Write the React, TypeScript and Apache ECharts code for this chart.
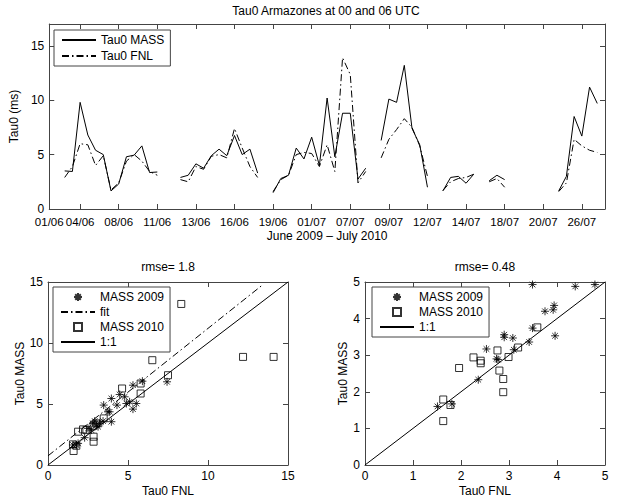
import React, { useEffect, useRef } from "react";
import * as echarts from "echarts";

const FONT = "'Liberation Sans', Arial, Helvetica, sans-serif";
const AXIS_COLOR = "#444";

// Top panel: samples 1..73 (null = no data)
const massTau0: (number | null)[] = [
  null, null, 3.5, 3.45, 9.8, 6.8, 5.4, 5.0, 1.66, 2.3,
  4.8, 4.95, 5.8, 3.35, 3.4, null, null, 2.9, 3.1, 4.15,
  3.75, 4.9, 5.5, 4.9, 6.75, 5.0, 5.5, 3.3, null, 1.5,
  2.8, 3.1, 5.6, 4.6, 6.6, 4.0, 10.2, 4.8, 8.8, 8.8,
  2.75, 3.75, null, 6.3, 10.1, 9.8, 13.2, 7.4, 5.9, 2.0,
  null, 1.66, 2.9, 3.0, 2.37, 3.2, null, 2.6, 3.1, 2.7,
  null, null, null, null, null, null, 1.66, 3.0, 8.5, 6.7,
  11.2, 9.7, null,
];
const fnlTau0: (number | null)[] = [
  null, null, 2.9, 3.9, 6.0, 5.9, 4.0, 4.9, 1.75, 2.4,
  4.4, 5.0, 4.4, 3.45, 3.1, null, null, 2.7, 2.5, 3.9,
  3.65, 4.85, 5.0, 4.7, 7.4, 5.6, 3.9, 2.9, null, 1.6,
  2.7, 3.1, 5.0, 5.2, 5.1, 3.9, 5.9, 3.45, 13.9, 12.35,
  2.4, 3.45, null, 4.7, 6.4, 7.3, 8.3, 7.5, 5.8, 3.0,
  null, 1.7, 2.5, 2.8, 2.9, 3.2, null, 2.5, 2.8, 2.0,
  null, null, null, null, null, null, 1.6, 2.4, 6.4, 5.8,
  5.4, 5.2, null,
];
const topTickValues = [1, 5, 10, 15, 20, 25, 30, 35, 40, 45, 50, 55, 60, 65, 70];
const topTickLabels = [
  "01/06", "04/06", "08/06", "11/06", "13/06", "16/06", "19/06", "01/07",
  "07/07", "09/07", "12/07", "14/07", "18/07", "20/07", "26/07",
];
const topYTicks = [0, 5, 10, 15];

// Bottom-left scatter (full range)
const left2009: [number, number][] = [
  [1.56, 1.64], [1.77, 1.64], [1.88, 1.77], [2.29, 2.24], [2.5, 3.0], [2.71, 2.86],
  [2.81, 3.41], [2.92, 3.6], [3.02, 3.27], [3.13, 3.14], [3.23, 3.41], [3.44, 3.6],
  [3.48, 4.91], [3.75, 4.36], [3.85, 4.36], [3.96, 5.45], [3.96, 3.55], [4.31, 4.91],
  [4.48, 5.78], [4.79, 5.59], [4.9, 5.04], [5.1, 5.18], [5.31, 6.54], [5.31, 4.58],
  [5.52, 5.04], [5.9, 6.87], [7.44, 6.82],
];
const left2010: [number, number][] = [
  [1.56, 1.69], [1.6, 1.15], [1.77, 1.58], [1.88, 2.73], [2.19, 2.92], [2.4, 2.86],
  [2.85, 3.22], [2.85, 2.32], [2.85, 1.91], [3.02, 3.41], [3.48, 3.82], [4.63, 6.27],
  [5.79, 6.68], [5.79, 5.86], [6.52, 8.59], [7.5, 7.36], [8.33, 13.2], [12.19, 8.86],
  [14.1, 8.86],
];
const fitLine: [number, number][] = [[0, 0.75], [13.4, 14.75]];
const oneToOneLeft: [number, number][] = [[0, 0], [15, 15]];

// Bottom-right scatter (zoom 0-5)
const right2009: [number, number][] = [
  [1.51, 1.6], [1.81, 1.67], [2.36, 2.33], [2.53, 3.17], [2.74, 2.9], [2.77, 2.88],
  [2.9, 3.56], [2.9, 3.49], [3.08, 3.47], [3.1, 3.15], [3.42, 3.36], [3.49, 3.74],
  [3.49, 4.93], [3.75, 4.2], [3.92, 4.24], [3.94, 4.36], [3.96, 3.53], [4.38, 4.88],
  [4.79, 4.93],
];
const right2010: [number, number][] = [
  [1.63, 1.79], [1.63, 1.2], [1.78, 1.64], [1.96, 2.65], [2.26, 2.94], [2.41, 2.85],
  [2.41, 2.78], [2.76, 3.13], [2.8, 2.58], [2.88, 2.35], [2.88, 1.99], [2.99, 2.95],
  [3.19, 3.21], [3.59, 3.76],
];
const oneToOneRight: [number, number][] = [[0, 0], [5, 5]];

const STAR = "path://M5 0L5 10M0 5L10 5M1.5 1.5L8.5 8.5M1.5 8.5L8.5 1.5";
const SQUARE = "path://M0 0L10 0L10 10L0 10Z";

function toSeriesData(values: (number | null)[]) {
  return values.map((v, k) => [k + 1, v == null ? "-" : v]);
}

const labelStyle = { color: "#000", fontSize: 12, fontFamily: FONT, lineHeight: 12 };
const nameStyle = { color: "#000", fontSize: 12, fontFamily: FONT };

function axisBase(gridIndex: number, position: string, min: number, max: number, interval: number | undefined, showLabel: boolean) {
  const a: any = {
    type: "value",
    gridIndex,
    position,
    min,
    max,
    axisLine: { show: true, onZero: false, lineStyle: { color: AXIS_COLOR, width: 1 } },
    axisTick: { show: true, inside: true, length: 5, lineStyle: { color: AXIS_COLOR, width: 1 } },
    splitLine: { show: false },
    axisLabel: { show: showLabel, margin: 5, ...labelStyle },
  };
  if (interval !== undefined) a.interval = interval;
  return a;
}

function legendBase(left: number, top: number, data: any[], itemGap: number) {
  return {
    left,
    top,
    orient: "vertical",
    data,
    backgroundColor: "#fff",
    borderColor: AXIS_COLOR,
    borderWidth: 1,
    borderRadius: 0,
    padding: [3, 6, 3, 7],
    itemGap,
    itemWidth: 34,
    itemHeight: 8,
    selectedMode: false,
    textStyle: { color: "#000", fontSize: 12, fontFamily: FONT, lineHeight: 14 },
  };
}

const lineOnly = (name: string) => ({ name, itemStyle: { opacity: 0 } });

export default function App() {
  const ref = useRef<HTMLDivElement>(null);
  useEffect(() => {
    if (!ref.current) return;
    const chart = echarts.init(ref.current, null, { renderer: "svg" });

    const topX0 = axisBase(0, "bottom", 1, 73, undefined, true);
    topX0.axisLabel.customValues = topTickValues;
    topX0.axisLabel.formatter = (v: number) => topTickLabels[topTickValues.indexOf(v)] ?? "";
    topX0.axisLabel.margin = 7;
    topX0.axisLabel.fontSize = 11.5;
    topX0.axisTick.customValues = topTickValues;
    topX0.name = "June 2009 \u2013 July 2010";
    topX0.nameLocation = "middle";
    topX0.nameGap = 21;
    topX0.nameTextStyle = nameStyle;
    const topX1 = axisBase(0, "top", 1, 73, undefined, false);
    topX1.axisTick.customValues = topTickValues;

    const topY0 = axisBase(0, "left", 0, 17, undefined, true);
    topY0.axisLabel.customValues = topYTicks;
    topY0.axisTick.customValues = topYTicks;
    topY0.name = "Tau0 (ms)";
    topY0.nameLocation = "middle";
    topY0.nameGap = 18;
    topY0.nameTextStyle = nameStyle;
    const topY1 = axisBase(0, "right", 0, 17, undefined, false);
    topY1.axisTick.customValues = topYTicks;

    const blX0 = axisBase(1, "bottom", 0, 15, 5, true);
    blX0.name = "Tau0 FNL";
    blX0.nameLocation = "middle";
    blX0.nameGap = 20;
    blX0.nameTextStyle = nameStyle;
    const blX1 = axisBase(1, "top", 0, 15, 5, false);
    const blY0 = axisBase(1, "left", 0, 15, 5, true);
    blY0.name = "Tau0 MASS";
    blY0.nameLocation = "middle";
    blY0.nameGap = 19;
    blY0.nameTextStyle = nameStyle;
    const blY1 = axisBase(1, "right", 0, 15, 5, false);

    const brX0 = axisBase(2, "bottom", 0, 5, 1, true);
    brX0.name = "Tau0 FNL";
    brX0.nameLocation = "middle";
    brX0.nameGap = 20;
    brX0.nameTextStyle = nameStyle;
    const brX1 = axisBase(2, "top", 0, 5, 1, false);
    const brY0 = axisBase(2, "left", 0, 5, 1, true);
    brY0.name = "Tau0 MASS";
    brY0.nameLocation = "middle";
    brY0.nameGap = 11;
    brY0.nameTextStyle = nameStyle;
    const brY1 = axisBase(2, "right", 0, 5, 1, false);

    const solid = { color: "#000", width: 1, type: "solid" };
    const dashDot = { color: "#000", width: 1, type: [7, 3, 1.5, 3] };
    const markerStyle = { color: "rgba(0,0,0,0)", borderColor: "#000", borderWidth: 1 };

    const titleStyle = { color: "#000", fontSize: 12, fontWeight: "normal", fontFamily: FONT };

    chart.setOption({
      animation: false,
      backgroundColor: "#fff",
      title: [
        { text: "Tau0 Armazones at 00 and 06 UTC", left: 326, top: 5, textAlign: "center", padding: 0, textStyle: titleStyle },
        { text: "rmse= 1.8", left: 168, top: 261, textAlign: "center", padding: 0, textStyle: titleStyle },
        { text: "rmse= 0.48", left: 485, top: 261, textAlign: "center", padding: 0, textStyle: titleStyle },
      ],
      grid: [
        { left: 47, top: 24, width: 558, height: 185 },
        { left: 48, top: 282, width: 240, height: 183 },
        { left: 365, top: 282, width: 240, height: 183 },
      ],
      xAxis: [topX0, topX1, blX0, blX1, brX0, brX1],
      yAxis: [topY0, topY1, blY0, blY1, brY0, brY1],
      legend: [
        legendBase(54, 30, [lineOnly("Tau0 MASS"), lineOnly("Tau0 FNL")], 2),
        legendBase(53, 287, ["MASS 2009", lineOnly("fit"), "MASS 2010", lineOnly("1:1")], 1),
        legendBase(372, 287, ["MASS 2009", "MASS 2010", lineOnly("1:1")], 1),
      ],
      series: [
        { name: "Tau0 MASS", type: "line", xAxisIndex: 0, yAxisIndex: 0, data: toSeriesData(massTau0), symbol: "none", connectNulls: false, lineStyle: solid, itemStyle: { color: "#000" }, silent: true },
        { name: "Tau0 FNL", type: "line", xAxisIndex: 0, yAxisIndex: 0, data: toSeriesData(fnlTau0), symbol: "none", connectNulls: false, lineStyle: dashDot, itemStyle: { color: "#000" }, silent: true },
        { name: "MASS 2009", type: "scatter", xAxisIndex: 2, yAxisIndex: 2, data: left2009, symbol: STAR, symbolSize: 8, itemStyle: markerStyle, silent: true },
        { name: "fit", type: "line", xAxisIndex: 2, yAxisIndex: 2, data: fitLine, symbol: "none", lineStyle: dashDot, itemStyle: { color: "#000" }, silent: true },
        { name: "MASS 2010", type: "scatter", xAxisIndex: 2, yAxisIndex: 2, data: left2010, symbol: SQUARE, symbolSize: 7, itemStyle: markerStyle, silent: true },
        { name: "1:1", type: "line", xAxisIndex: 2, yAxisIndex: 2, data: oneToOneLeft, symbol: "none", lineStyle: solid, itemStyle: { color: "#000" }, silent: true },
        { name: "MASS 2009", type: "scatter", xAxisIndex: 4, yAxisIndex: 4, data: right2009, symbol: STAR, symbolSize: 8, itemStyle: markerStyle, silent: true },
        { name: "MASS 2010", type: "scatter", xAxisIndex: 4, yAxisIndex: 4, data: right2010, symbol: SQUARE, symbolSize: 7, itemStyle: markerStyle, silent: true },
        { name: "1:1", type: "line", xAxisIndex: 4, yAxisIndex: 4, data: oneToOneRight, symbol: "none", lineStyle: solid, itemStyle: { color: "#000" }, silent: true },
      ],
    });
    return () => chart.dispose();
  }, []);
  return (
    <div
      ref={ref}
      style={{ position: "absolute", left: 0, top: 0, width: 618, height: 501, background: "#fff" }}
    />
  );
}
